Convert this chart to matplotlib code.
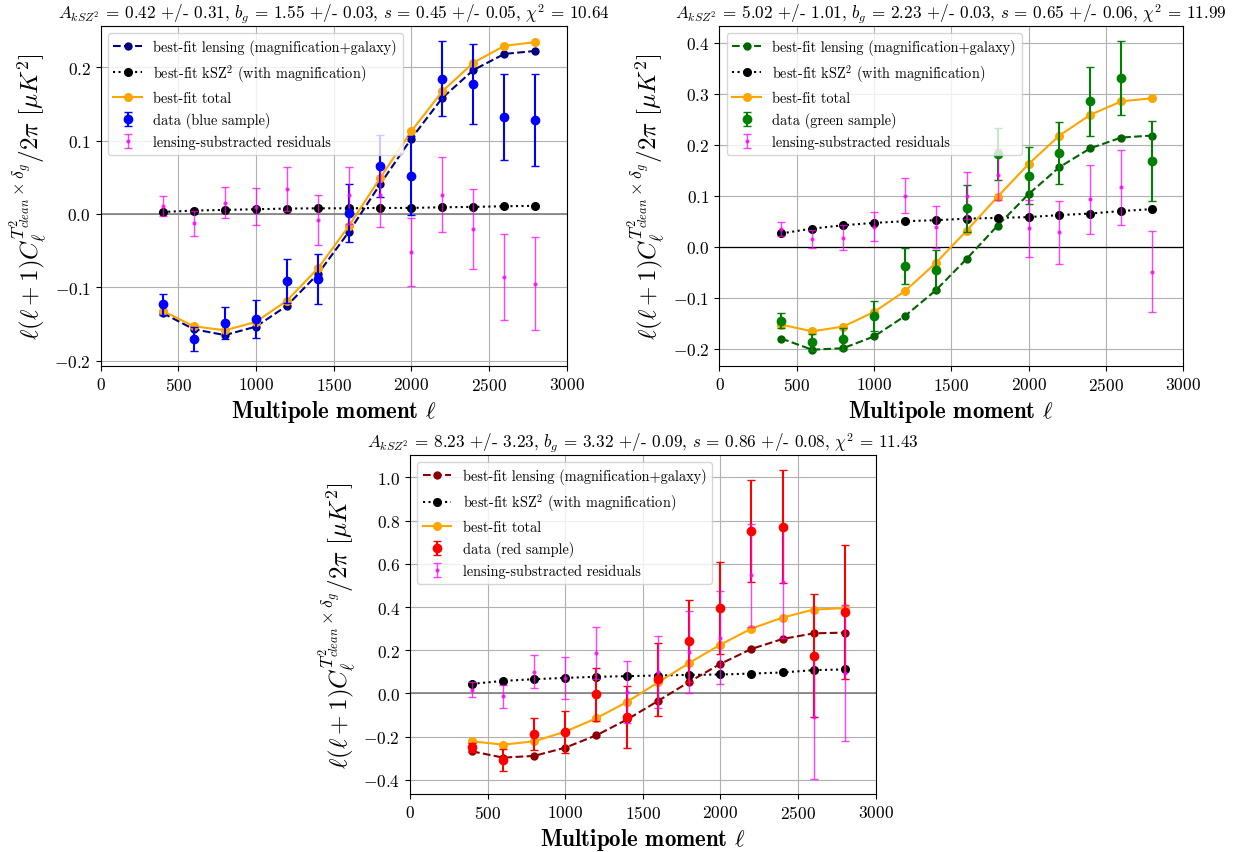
import matplotlib
matplotlib.use("Agg")
import matplotlib.pyplot as plt
import numpy as np

plt.rcParams['font.family'] = ['cmr10', 'DejaVu Serif']
plt.rcParams['mathtext.fontset'] = 'cm'
plt.rcParams['axes.formatter.use_mathtext'] = True
plt.rcParams['axes.unicode_minus'] = True

ell = [400, 600, 800, 1000, 1200, 1400, 1600, 1800, 2000, 2200, 2400, 2600, 2800]

# ---- blue sample ----
blue_data = [-0.123, -0.170, -0.149, -0.1435, -0.091, -0.088, 0.0014, 0.0656, 0.052, 0.184, 0.177, 0.132, 0.128]
blue_err = [0.014, 0.016, 0.022, 0.026, 0.030, 0.034, 0.039, 0.042, 0.054, 0.051, 0.055, 0.059, 0.063]
blue_lens = [-0.135, -0.157, -0.165, -0.1535, -0.125, -0.0815, -0.024, 0.0405, 0.1025, 0.158, 0.196, 0.218, 0.222]
blue_ksz = [0.0027, 0.0046, 0.0055, 0.0064, 0.0073, 0.0077, 0.0077, 0.0082, 0.0082, 0.0091, 0.0096, 0.0105, 0.011]
blue_total = [-0.132, -0.153, -0.1585, -0.147, -0.118, -0.074, -0.016, 0.049, 0.1125, 0.167, 0.206, 0.229, 0.234]
blue_res = [0.0114, -0.0128, 0.0155, 0.010, 0.0346, -0.0077, 0.0255, 0.0255, -0.0515, 0.0264, -0.020, -0.086, -0.0948]
blue_res_err = [0.0137, 0.017, 0.021, 0.0255, 0.030, 0.034, 0.039, 0.043, 0.046, 0.0505, 0.0545, 0.0585, 0.0635]

# ---- green sample ----
green_data = [-0.1454, -0.1875, -0.181, -0.136, -0.038, -0.046, 0.075, 0.182, 0.1395, 0.184, 0.2855, 0.330, 0.168]
green_err = [0.0145, 0.016, 0.022, 0.029, 0.0345, 0.040, 0.0454, 0.0505, 0.056, 0.061, 0.0675, 0.0725, 0.079]
green_lens = [-0.180, -0.202, -0.199, -0.176, -0.136, -0.0855, -0.0237, 0.0414, 0.103, 0.156, 0.193, 0.214, 0.218]
green_ksz = [0.026, 0.0355, 0.042, 0.0467, 0.050, 0.052, 0.055, 0.0566, 0.058, 0.062, 0.065, 0.070, 0.0737]
green_total = [-0.1526, -0.166, -0.1566, -0.128, -0.087, -0.032, 0.0316, 0.098, 0.162, 0.218, 0.2586, 0.285, 0.291]
green_res = [0.035, 0.015, 0.0178, 0.0395, 0.100, 0.0388, 0.100, 0.141, 0.036, 0.028, 0.093, 0.1165, -0.049]
green_res_err = [0.014, 0.018, 0.024, 0.029, 0.0345, 0.041, 0.0455, 0.050, 0.056, 0.062, 0.068, 0.073, 0.0795]

# ---- red sample ----
red_data = [-0.250, -0.309, -0.189, -0.177, -0.0046, -0.109, 0.0646, 0.2446, 0.394, 0.751, 0.772, 0.174, 0.377]
red_err = [0.020, 0.052, 0.075, 0.098, 0.121, 0.143, 0.167, 0.190, 0.213, 0.237, 0.260, 0.285, 0.310]
red_lens = [-0.268, -0.297, -0.289, -0.251, -0.194, -0.120, -0.034, 0.054, 0.137, 0.206, 0.252, 0.278, 0.2815]
red_ksz = [0.0446, 0.058, 0.066, 0.072, 0.077, 0.080, 0.083, 0.086, 0.0877, 0.092, 0.097, 0.108, 0.111]
red_total = [-0.2215, -0.237, -0.2215, -0.177, -0.115, -0.0385, 0.052, 0.1415, 0.226, 0.300, 0.351, 0.388, 0.395]
red_res = [0.017, -0.014, 0.100, 0.072, 0.188, 0.006, 0.0985, 0.192, 0.258, 0.546, 0.517, -0.109, 0.095]
red_res_err = [0.035, 0.054, 0.076, 0.098, 0.120, 0.144, 0.167, 0.190, 0.214, 0.237, 0.260, 0.285, 0.313]

titles = [
    r'$A_{kSZ^2}$ = 0.42 +/- 0.31, $b_g$ = 1.55 +/- 0.03, $s$ = 0.45 +/- 0.05, $\chi^2$ = 10.64',
    r'$A_{kSZ^2}$ = 5.02 +/- 1.01, $b_g$ = 2.23 +/- 0.03, $s$ = 0.65 +/- 0.06, $\chi^2$ = 11.99',
    r'$A_{kSZ^2}$ = 8.23 +/- 3.23, $b_g$ = 3.32 +/- 0.09, $s$ = 0.86 +/- 0.08, $\chi^2$ = 11.43',
]

panels = [
    dict(data=blue_data, err=blue_err, lens=blue_lens, ksz=blue_ksz, total=blue_total,
         res=blue_res, res_err=blue_res_err, dcol='blue', lcol='navy', name='blue', zcol='gray',
         pos=[0.0811, 0.5698, 0.3758, 0.3986]),
    dict(data=green_data, err=green_err, lens=green_lens, ksz=green_ksz, total=green_total,
         res=green_res, res_err=green_res_err, dcol='green', lcol='darkgreen', name='green', zcol='k',
         pos=[0.5802, 0.5698, 0.3739, 0.3986]),
    dict(data=red_data, err=red_err, lens=red_lens, ksz=red_ksz, total=red_total,
         res=red_res, res_err=red_res_err, dcol='red', lcol='darkred', name='red', zcol='gray',
         pos=[0.3306, 0.0680, 0.3756, 0.3974]),
]

fig = plt.figure(figsize=(12.4, 8.53), dpi=100)

for p, title in zip(panels, titles):
    ax = fig.add_axes(p['pos'])
    ax.grid(True, color='#b0b0b0', lw=0.8)
    ax.set_axisbelow(True)
    ax.axhline(0, color=p['zcol'], lw=1.2 if p['zcol'] == 'gray' else 0.9)
    ax.plot(ell, p['lens'], '--o', color=p['lcol'], ms=5, lw=1.5,
            label='best-fit lensing (magnification+galaxy)')
    ax.plot(ell, p['ksz'], ':o', color='k', ms=5.5, lw=1.5,
            label=r'best-fit kSZ$^2$ (with magnification)')
    ax.plot(ell, p['total'], '-o', color='orange', ms=5.5, lw=1.5,
            label='best-fit total')
    ax.errorbar(ell, p['data'], yerr=p['err'], fmt='o', color=p['dcol'], ms=6,
                capsize=3, elinewidth=1.5, label='data (%s sample)' % p['name'])
    ax.errorbar(ell, p['res'], yerr=p['res_err'], fmt='.', color='magenta', ms=4,
                capsize=3, elinewidth=1.0, alpha=0.75, label='lensing-substracted residuals')
    ax.set_xlim(0, 3000)
    ax.set_title(title, fontsize=12.3, pad=6)
    ax.set_xlabel(r'Multipole moment $\ell$', fontsize=16.5, fontfamily=['cmb10', 'DejaVu Serif'])
    ax.set_ylabel(r'$\ell(\ell+1)C_\ell^{T^2_{clean}\times\delta_g}/2\pi\ [\mu K^2]$', fontsize=18)
    ax.tick_params(labelsize=12.5)
    ax.legend(loc='upper left', fontsize=10.3, framealpha=0.8)

fig.savefig('out.png', dpi=100)
